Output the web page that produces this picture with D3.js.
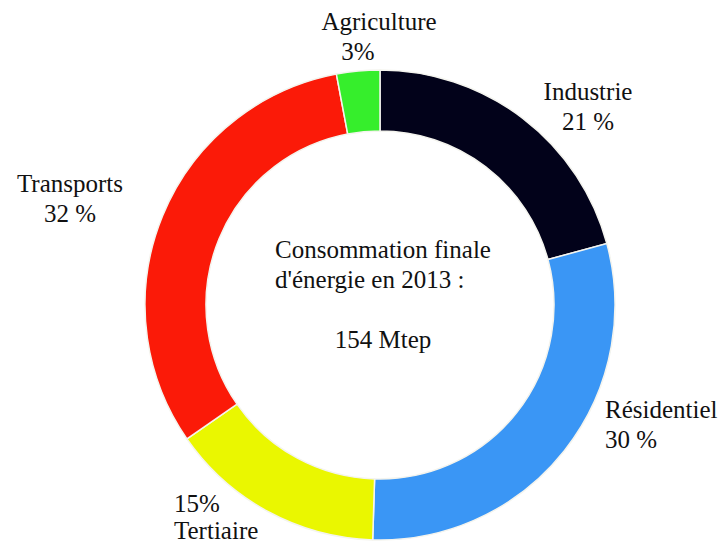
<!DOCTYPE html>
<html>
<head>
<meta charset="utf-8">
<script src="https://cdn.jsdelivr.net/npm/d3@7"></script>
<style>
  body { margin: 0; background: #fff; }
  svg text { font-family: 'Times New Roman', Times, Tinos, 'Liberation Serif', 'Noto Serif', 'DejaVu Serif', serif; font-size: 25px; fill: #111; }
</style>
</head>
<body>
<div id="chart"></div>
<script>
// sectors, clockwise from 12 o'clock
const sectors = ['Industrie', 'Résidentiel', 'Tertiaire', 'Transports', 'Agriculture'];
const shares = [21, 30, 15, 32, 3];
const shareLabels = ['21 %', '30 %', '15%', '32 %', '3%'];
const colors = ['#02021a', '#3a96f5', '#eaf700', '#fb1a08', '#36ee2c'];
const centerLines = ['Consommation finale', "d'énergie en 2013 :", '154 Mtep'];

const width = 726, height = 544;
const cx = 380, cy = 305;
const outerR = 235, innerR = 174;

const svg = d3.select('#chart')
  .append('svg')
  .attr('width', width)
  .attr('height', height);

const pie = d3.pie().sort(null).value(d => d);
const arc = d3.arc().innerRadius(innerR).outerRadius(outerR);

const g = svg.append('g').attr('transform', `translate(${cx},${cy})`);

g.selectAll('path')
  .data(pie(shares))
  .join('path')
  .attr('d', arc)
  .attr('fill', (d, i) => colors[i])
  .attr('stroke', '#f4f4ee')
  .attr('stroke-width', 1.5);

// label placement (name line, value line), positioned around the ring
const labelPos = [
  { x: 588, y: 100, anchor: 'middle', order: 'nameFirst' },
  { x: 605, y: 418, anchor: 'start', order: 'nameFirst' },
  { x: 174, y: 512, anchor: 'start', order: 'valueFirst' },
  { x: 70, y: 192, anchor: 'middle', order: 'nameFirst' },
  { x: 379, y: 30, anchor: 'middle', order: 'nameFirst' }
];

sectors.forEach((name, i) => {
  const p = labelPos[i];
  const lines = p.order === 'nameFirst' ? [name, shareLabels[i]] : [shareLabels[i], name];
  const t = svg.append('text')
    .attr('x', p.x)
    .attr('y', p.y)
    .attr('text-anchor', p.anchor);
  lines.forEach((l, j) => {
    t.append('tspan')
      .attr('x', i === 4 && j === 1 ? 358 : p.x)
      .attr('dy', j === 0 ? 0 : (i === 2 ? 27 : 30))
      .text(l);
  });
});

svg.append('text')
  .attr('x', 275).attr('y', 258)
  .text(centerLines[0]);
svg.append('text')
  .attr('x', 275).attr('y', 288)
  .text(centerLines[1]);
svg.append('text')
  .attr('x', 383).attr('y', 348)
  .attr('text-anchor', 'middle')
  .text(centerLines[2]);
</script>
</body>
</html>
